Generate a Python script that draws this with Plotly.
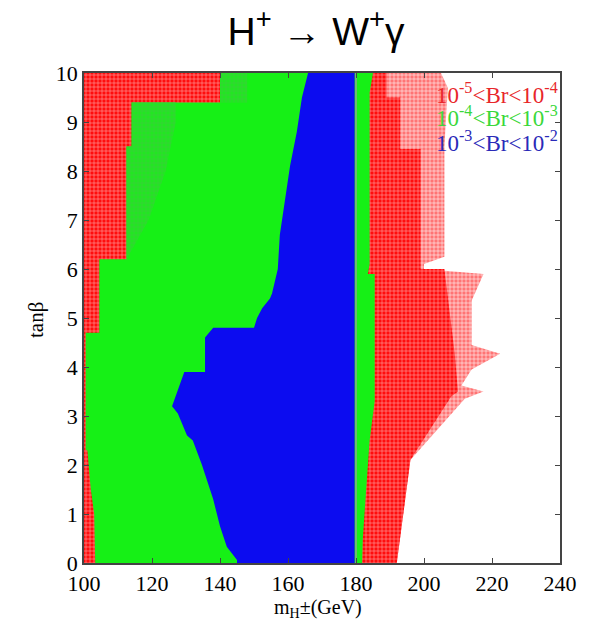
import plotly.graph_objects as go

# ---------------- data (boundaries) ----------------
# x axis: charged Higgs mass (GeV), y axis: tan(beta)
x_ticks = [100, 120, 140, 160, 180, 200, 220, 240]
y_ticks = list(range(0, 11))

# outer (light) red region 1e-5 < Br < 1e-4, right edge (bottom -> top)
red_light_tb = [0, 1.0, 2.1, 3.35, 3.5, 3.62, 3.95, 4.27, 4.45, 5.35, 5.9, 6.0, 6.1, 6.25, 8.5, 9.7, 10]
red_light_m = [192, 194, 196, 212, 217.5, 211, 214, 222.4, 214, 214, 217.5, 200, 200, 206, 206, 207, 205]

# dense red region, right edge (bottom -> top)
red_dense_tb = [0, 1.0, 2.1, 3.4, 3.5, 4.3, 5.4, 6.0, 6.0, 6.2, 8.45, 8.45, 9.5, 9.5, 10]
red_dense_m = [192, 194, 196, 208, 210, 209, 207, 206, 199, 199, 199, 193, 193, 189, 189]

# green region 1e-4 < Br < 1e-3: left edge (bottom -> top)
green_left_tb = [0, 0.5, 1.0, 1.5, 2.0, 2.3, 2.3, 4.7, 4.7, 6.2, 6.2, 8.5, 8.5, 9.4, 9.4, 10]
green_left_m = [103.3, 103.2, 103, 102, 101.5, 101, 100.5, 100.5, 104.5, 104.5, 112.5, 112.5, 114, 114, 140, 140]
# green region right edge beyond 180 GeV (bottom -> top)
green_right_tb = [0, 0.5, 1.5, 2.5, 3.3, 4.5, 5.9, 5.9, 6.1, 9.6, 10]
green_right_m = [181.8, 182, 183, 184, 185.5, 185.6, 185.5, 183.5, 184, 184, 185]

# hatched green patch (upper left), edges (bottom -> top)
green_hatch_left_tb = [6.2, 8.5, 8.5, 9.4, 9.4, 10]
green_hatch_left_m = [112.5, 112.5, 114, 114, 140, 140]
green_hatch_tb = [6.2, 7.0, 8.0, 9.0, 9.4, 9.4, 10]
green_hatch_m = [112.5, 119, 124, 127, 127, 148, 148]

# blue region 1e-3 < Br < 1e-2: left edge (bottom -> top); right edge at 180 GeV
blue_left_tb = [0, 0.06, 0.33, 0.75, 1.3, 2.0, 2.5, 2.6, 3.05, 3.2, 3.2, 3.9, 3.9, 4.6, 4.8, 4.8,
                5.0, 5.2, 5.4, 5.5, 6.0, 6.7, 7.4, 8.1, 8.8, 9.5, 10]
blue_left_m = [145, 145, 142, 140, 138, 134.7, 132, 130.3, 127.6, 125.9, 125.9, 129.5, 135.6, 135.6, 138, 150,
               150.9, 152.4, 154.7, 155.3, 157, 157.6, 159.1, 160.6, 162.6, 164.1, 165.9]
blue_right_m = 179.6

threshold_m = 180  # vertical line m_H = m_t + m_b

legend_labels = [
    "10<sup>-5</sup>&lt;Br&lt;10<sup>-4</sup>",
    "10<sup>-4</sup>&lt;Br&lt;10<sup>-3</sup>",
    "10<sup>-3</sup>&lt;Br&lt;10<sup>-2</sup>",
]
legend_colors = ["#e8262a", "#3ad83a", "#2a2ab8"]

# ---------------- helpers ----------------
def band(left_m, left_tb, right_m, right_tb):
    xs = list(left_m) + list(reversed(right_m)) + [left_m[0]]
    ys = list(left_tb) + list(reversed(right_tb)) + [left_tb[0]]
    return xs, ys

fig = go.Figure()

def add_region(xs, ys, color=None, pattern=None):
    kw = dict(x=xs, y=ys, mode="lines", fill="toself", line=dict(width=0),
              hoverinfo="skip", showlegend=False)
    if pattern is not None:
        kw["fillpattern"] = pattern
        kw["fillcolor"] = pattern.get("bgcolor")
    else:
        kw["fillcolor"] = color
    fig.add_trace(go.Scatter(**kw))

# light red
xs, ys = band([100, 100], [0, 10], red_light_m, red_light_tb)
add_region(xs, ys, pattern=dict(shape="+", bgcolor="rgba(255,30,30,0.62)", fgcolor="white",
                                size=4, solidity=0.25, fillmode="replace"))
# dense red
xs, ys = band([100, 100], [0, 10], red_dense_m, red_dense_tb)
add_region(xs, ys, pattern=dict(shape="+", bgcolor="#ff0d0d", fgcolor="rgba(255,255,255,0.75)",
                                size=4, solidity=0.22, fillmode="replace"))
# green
xs, ys = band(green_left_m, green_left_tb, green_right_m, green_right_tb)
add_region(xs, ys, color="#16f016")
# hatched green patch
xs, ys = band(green_hatch_left_m, green_hatch_left_tb, green_hatch_m, green_hatch_tb)
add_region(xs, ys, pattern=dict(shape="+", bgcolor="#22e622", fgcolor="#44c044",
                                size=4, solidity=0.22, fillmode="replace"))
# blue
xs, ys = band(blue_left_m, blue_left_tb, [blue_right_m, blue_right_m], [0, 10])
add_region(xs, ys, color="#0c0cf0")

# threshold line
fig.add_trace(go.Scatter(x=[threshold_m, threshold_m], y=[0, 10], mode="lines",
                         line=dict(color="#8fa88f", width=1.5), hoverinfo="skip", showlegend=False))

# ---------------- layout ----------------
L, R, T, B = 84, 41, 73, 66
W, H = 601, 629
pw, ph = W - L - R, H - T - B

def px_to_paper(px, py):
    return (px - L) / pw, (H - B - py) / ph

serif = "Liberation Serif, Times New Roman, serif"
axis_common = dict(showline=True, mirror="ticks", linecolor="#444", linewidth=1.5,
                   ticks="inside", ticklen=5, tickcolor="#444", showgrid=False, zeroline=False,
                   tickfont=dict(family=serif, size=22, color="black"))

fig.update_layout(
    width=W, height=H, margin=dict(l=L, r=R, t=T, b=B),
    paper_bgcolor="white", plot_bgcolor="white",
    xaxis=dict(range=[100, 240], tickvals=x_ticks, ticktext=[str(v) for v in x_ticks], **axis_common),
    yaxis=dict(range=[0, 10], tickvals=y_ticks, ticktext=[str(v) for v in y_ticks], **axis_common),
    title=dict(text="H<sup>+</sup> → W<sup>+</sup>γ", x=316 / W, xref="container", xanchor="center",
               y=1 - 31 / H, yref="container", yanchor="middle",
               font=dict(family="Liberation Sans, Arial, sans-serif", size=39, color="black")),
)

annots = []
ax, ay = px_to_paper(36, 320)
annots.append(dict(text="tanβ", x=ax, y=ay, xref="paper", yref="paper", showarrow=False,
                   xanchor="center", yanchor="middle",
                   textangle=-90, font=dict(family=serif, size=21, color="black")))
ax, ay = px_to_paper(318, 608)
annots.append(dict(text="m<sub>H</sub>±(GeV)", x=ax, y=ay, xref="paper", yref="paper", showarrow=False,
                   xanchor="center", yanchor="middle",
                   font=dict(family=serif, size=20, color="black")))
for lab, col, py in zip(legend_labels, legend_colors, [93, 117, 141]):
    ax, ay = px_to_paper(560, py)
    annots.append(dict(text=lab, x=ax, y=ay, xref="paper", yref="paper", xanchor="right",
                       yanchor="middle", showarrow=False, font=dict(family=serif, size=23, color=col)))
fig.update_layout(annotations=annots)

fig.write_html("out.html")
